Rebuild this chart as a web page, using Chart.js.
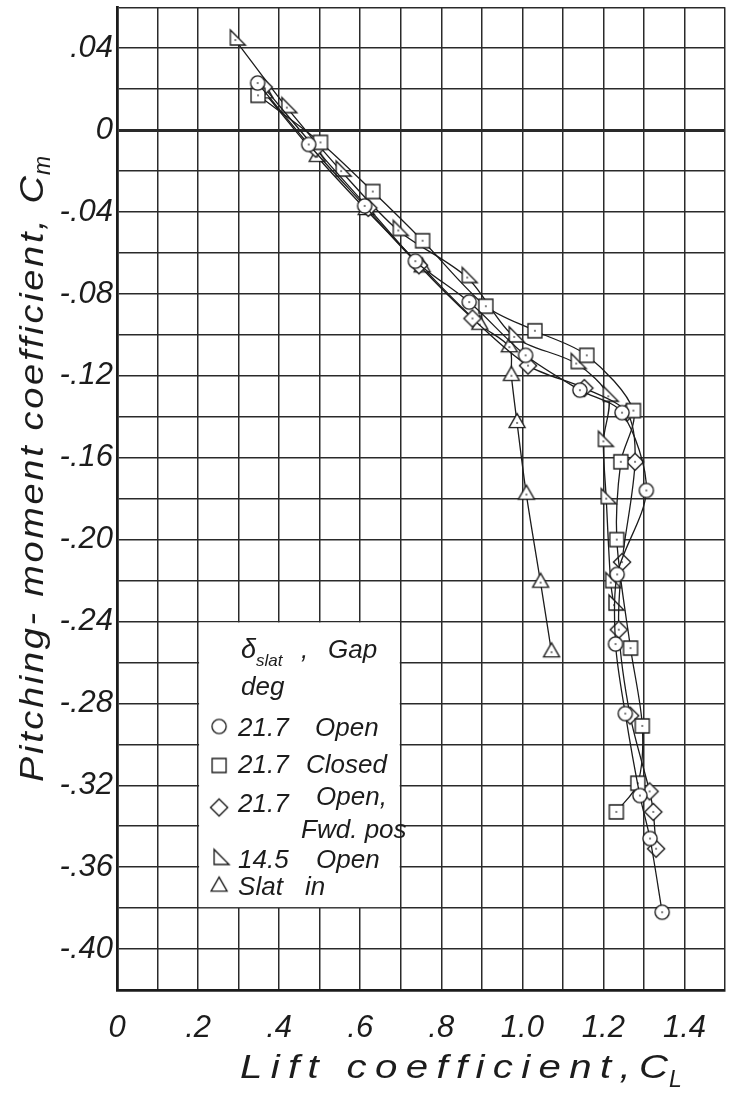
<!DOCTYPE html>
<html>
<head>
<meta charset="utf-8">
<script src="https://cdn.jsdelivr.net/npm/chart.js@4/dist/chart.umd.min.js"></script>
<style>
  html, body { margin: 0; padding: 0; background: #fff; }
  canvas { display: block; }
</style>
</head>
<body>
<canvas id="c" width="735" height="1097"></canvas>
<script>
// Lift coefficient (C_L) and pitching-moment coefficient (C_m) per slat configuration

// delta_slat 21.7 deg, gap open
const clOpen = [0.347, 0.473, 0.611, 0.736, 0.869, 1.008, 1.142, 1.246, 1.306, 1.234, 1.230, 1.254, 1.290, 1.315, 1.345];
const cmOpen = [0.023, -0.007, -0.037, -0.064, -0.084, -0.110, -0.127, -0.138, -0.176, -0.217, -0.251, -0.285, -0.325, -0.346, -0.382];

// delta_slat 21.7 deg, gap closed
const clClosed = [0.348, 0.502, 0.631, 0.754, 0.910, 1.031, 1.159, 1.274, 1.243, 1.233, 1.267, 1.296, 1.285, 1.232];
const cmClosed = [0.017, -0.006, -0.030, -0.054, -0.086, -0.098, -0.110, -0.137, -0.162, -0.200, -0.253, -0.291, -0.319, -0.333];

// delta_slat 21.7 deg, gap open, forward position
const clFwd = [0.362, 0.490, 0.620, 0.745, 0.877, 1.014, 1.153, 1.258, 1.278, 1.246, 1.238, 1.266, 1.314, 1.323, 1.330];
const cmFwd = [0.021, -0.009, -0.038, -0.066, -0.092, -0.115, -0.126, -0.138, -0.162, -0.211, -0.244, -0.286, -0.323, -0.333, -0.351];

// delta_slat 14.5 deg, gap open
const cl145 = [0.292, 0.419, 0.553, 0.694, 0.864, 0.980, 1.133, 1.212, 1.200, 1.207, 1.218, 1.226];
const cm145 = [0.044, 0.011, -0.020, -0.049, -0.072, -0.101, -0.114, -0.130, -0.152, -0.180, -0.221, -0.232];

// slat retracted
const clIn = [0.365, 0.494, 0.615, 0.753, 0.895, 0.968, 0.973, 0.987, 1.010, 1.045, 1.072];
const cmIn = [0.018, -0.013, -0.039, -0.067, -0.095, -0.106, -0.120, -0.143, -0.178, -0.221, -0.255];

// Axis tick labels (every other grid line is labelled)
const xTickLabels = ['0', '.2', '.4', '.6', '.8', '1.0', '1.2', '1.4'];
const yTickLabels = ['.04', '0', '-.04', '-.08', '-.12', '-.16', '-.20', '-.24', '-.28', '-.32', '-.36', '-.40'];

// Key entries: symbol, deflection, gap
const keyRows = [
  { sym: 'circle',   a: '21.7', b: 'Open' },
  { sym: 'square',   a: '21.7', b: 'Closed' },
  { sym: 'diamond',  a: '21.7', b: 'Open,', c: 'Fwd. pos' },
  { sym: 'rightTri', a: '14.5', b: 'Open' },
  { sym: 'upTri',    a: 'Slat', b: 'in' }
];

const INK = '#1c1c1c';
const FONT = '"Liberation Sans", "DejaVu Sans", sans-serif';

// Hollow plotting symbols, drawn once to small canvases
function makeMarker(kind, dot) {
  const s = 34, m = s / 2;
  const c = document.createElement('canvas');
  c.width = s; c.height = s;
  const g = c.getContext('2d');
  g.lineWidth = 1.35;
  g.strokeStyle = INK;
  g.fillStyle = '#fff';
  g.beginPath();
  if (kind === 'circle') {
    g.arc(m, m, 7.1, 0, Math.PI * 2);
  } else if (kind === 'square') {
    g.rect(m - 7, m - 7, 14, 14);
  } else if (kind === 'diamond') {
    g.moveTo(m, m - 8.6); g.lineTo(m + 8.6, m); g.lineTo(m, m + 8.6); g.lineTo(m - 8.6, m); g.closePath();
  } else if (kind === 'rightTri') {
    const w = 15, h = 15;
    g.moveTo(m - w / 3, m - 2 * h / 3); g.lineTo(m - w / 3, m + h / 3); g.lineTo(m + 2 * w / 3, m + h / 3); g.closePath();
  } else if (kind === 'upTri') {
    const w = 16, h = 14;
    g.moveTo(m, m - 2 * h / 3); g.lineTo(m + w / 2, m + h / 3); g.lineTo(m - w / 2, m + h / 3); g.closePath();
  }
  g.fill();
  g.stroke();
  if (dot) {
    g.fillStyle = '#444';
    g.beginPath(); g.arc(m, m, 0.9, 0, Math.PI * 2); g.fill();
  }
  return c;
}

const kinds = ['circle', 'square', 'diamond', 'rightTri', 'upTri'];
const plotSym = {}, keySym = {};
kinds.forEach(k => { plotSym[k] = makeMarker(k, true); keySym[k] = makeMarker(k, false); });

function series(label, xs, ys, sym) {
  return {
    label,
    data: xs.map((x, i) => ({ x, y: ys[i] })),
    showLine: true,
    borderColor: INK,
    borderWidth: 1.3,
    tension: 0.3,
    fill: false,
    pointStyle: plotSym[sym],
    pointRadius: 6,
    pointHoverRadius: 6
  };
}

// Lettering: glyphs widened by sx and spaced so the text spans a given length
function letterText(ctx, text, x, y, target, sx) {
  const chars = [...text];
  const widths = chars.map(ch => ctx.measureText(ch).width * sx);
  const natural = widths.reduce((s, w) => s + w, 0);
  const gap = chars.length > 1 ? (target - natural) / (chars.length - 1) : 0;
  let cx = x;
  chars.forEach((ch, i) => {
    ctx.save();
    ctx.translate(cx, y);
    ctx.scale(sx, 1);
    ctx.fillText(ch, 0, 0);
    ctx.restore();
    cx += widths[i] + gap;
  });
  return cx - gap;
}

const paper = {
  id: 'paper',
  beforeDraw(chart) {
    const ctx = chart.ctx;
    ctx.save();
    ctx.fillStyle = '#fff';
    ctx.fillRect(0, 0, chart.width, chart.height);
    ctx.restore();
  },
  beforeDatasetsDraw(chart) {
    // blank panel for the key, bounded by grid lines
    const { ctx, scales: { x, y } } = chart;
    const l = x.getPixelForValue(0.2), r = x.getPixelForValue(0.7);
    const t = y.getPixelForValue(-0.24), b = y.getPixelForValue(-0.38);
    ctx.save();
    ctx.fillStyle = '#fff';
    ctx.fillRect(l + 1, t + 1, r - l - 2, b - t - 2);
    ctx.restore();
  },
  afterDraw(chart) {
    const { ctx, scales: { x, y } } = chart;
    ctx.save();
    ctx.fillStyle = INK;
    ctx.textBaseline = 'alphabetic';
    ctx.textAlign = 'left';

    // Axis titles
    ctx.font = 'italic 33px ' + FONT;
    let end = letterText(ctx, 'Lift coefficient,C', 240, 1078, 428, 1.22);
    ctx.font = 'italic 23px ' + FONT;
    ctx.fillText('L', end + 1, 1087);

    ctx.translate(43, 782);
    ctx.rotate(-Math.PI / 2);
    ctx.font = 'italic 33px ' + FONT;
    end = letterText(ctx, 'Pitching- moment coefficient, C', 0, 0, 606, 1.15);
    ctx.font = 'italic 23px ' + FONT;
    ctx.fillText('m', end + 1, 7);
    ctx.setTransform(1, 0, 0, 1, 0, 0);

    // Key
    const L = x.getPixelForValue(0.2), T = y.getPixelForValue(-0.24);
    ctx.font = 'italic 27px ' + FONT;
    ctx.fillText('\u03B4', L + 43, T + 37);
    ctx.font = 'italic 17px ' + FONT;
    ctx.fillText('slat', L + 58, T + 45);
    ctx.font = 'italic 26px ' + FONT;
    ctx.fillText(',', L + 103, T + 37);
    ctx.fillText('Gap', L + 130, T + 37);
    ctx.fillText('deg', L + 43, T + 74);

    const rowY = [115, 152, 191, 247, 274];
    const symY = [105, 144, 186, 238, 265];
    const bX = [117, 108, 118, 118, 107];
    keyRows.forEach((row, i) => {
      const im = keySym[row.sym];
      ctx.drawImage(im, L + 21 - im.width / 2, T + symY[i] - im.height / 2);
      ctx.fillText(row.a, L + 40, T + rowY[i]);
      if (row.c) {
        ctx.fillText(row.b, L + bX[i], T + 184);
        ctx.fillText(row.c, L + 103, T + 217);
      } else {
        ctx.fillText(row.b, L + bX[i], T + rowY[i]);
      }
    });
    ctx.restore();
  }
};

const tickFont = { family: FONT, size: 31, style: 'italic' };

new Chart(document.getElementById('c'), {
  type: 'scatter',
  data: {
    datasets: [
      series('21.7 Open', clOpen, cmOpen, 'circle'),
      series('21.7 Closed', clClosed, cmClosed, 'square'),
      series('21.7 Open, Fwd. pos', clFwd, cmFwd, 'diamond'),
      series('14.5 Open', cl145, cm145, 'rightTri'),
      series('Slat in', clIn, cmIn, 'upTri')
    ]
  },
  options: {
    responsive: false,
    animation: false,
    events: [],
    layout: { padding: { top: 7, right: 10, left: 0, bottom: 0 } },
    plugins: { legend: { display: false }, tooltip: { enabled: false } },
    scales: {
      x: {
        type: 'linear',
        min: 0, max: 1.5,
        ticks: {
          stepSize: 0.1,
          autoSkip: false,
          maxRotation: 0,
          padding: 20,
          color: INK,
          font: tickFont,
          callback: (v) => {
            const k = Math.round(v * 10);
            return k % 2 === 0 && xTickLabels[k / 2] !== undefined ? xTickLabels[k / 2] : '';
          }
        },
        grid: { color: '#2a2a2a', lineWidth: 1.5, drawTicks: false },
        border: { display: true, color: INK, width: 2.8 },
        afterFit: (s) => { s.height = 107; s.paddingLeft = 0; s.paddingRight = 0; s.paddingTop = 0; s.paddingBottom = 0; }
      },
      y: {
        type: 'linear',
        min: -0.42, max: 0.06,
        ticks: {
          stepSize: 0.02,
          autoSkip: false,
          padding: 4,
          color: INK,
          font: tickFont,
          callback: (v) => {
            const k = Math.round(v * 100);
            return k % 4 === 0 && yTickLabels[(4 - k) / 4] !== undefined ? yTickLabels[(4 - k) / 4] : '';
          }
        },
        grid: {
          color: '#2a2a2a',
          lineWidth: (c) => (c.tick && Math.round(c.tick.value * 100) === 0 ? 3 : 1.5),
          drawTicks: false
        },
        border: { display: true, color: INK, width: 2.8 },
        afterFit: (s) => { s.width = 117; s.paddingLeft = 0; s.paddingRight = 0; s.paddingTop = 0; s.paddingBottom = 0; }
      }
    }
  },
  plugins: [paper]
});
</script>
</body>
</html>
